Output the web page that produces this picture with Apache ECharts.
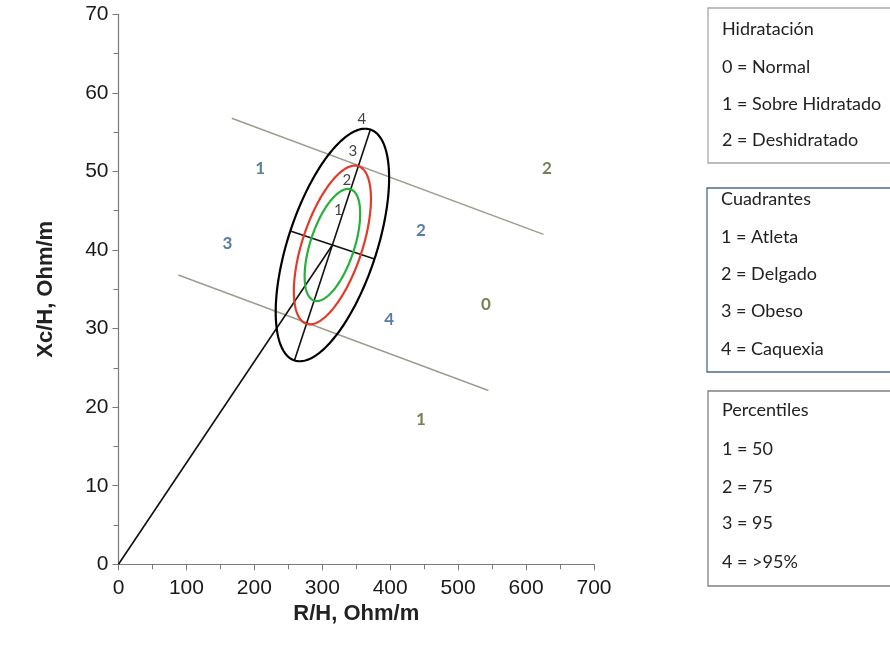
<!DOCTYPE html>
<html><head><meta charset="utf-8">
<script src="https://cdn.jsdelivr.net/npm/echarts@6/dist/echarts.min.js"></script>
<style>html,body{margin:0;padding:0;background:#fff}#c{width:890px;height:648px}</style>
</head><body><div id="c"></div>
<script>
// ---------- data ----------
const xAxisName = 'R/H, Ohm/m';
const yAxisName = 'Xc/H, Ohm/m';
const xRange = [0, 700], xStep = 100;
const yRange = [0, 70], yStep = 10;

// tolerance ellipses: common centre, and each ellipse's major / minor semi-axis end point
const ellipseNames = ['50%', '75%', '95%'];
const ellipseCenter = [314.9, 40.64];
const ellipseMajorEnds = [[341.8, 47.72], [353.2, 50.67], [370.8, 55.33]];
const ellipseMinorEnds = [[345.7, 39.76], [356.8, 39.44], [376.9, 38.87]];

// straight reference lines
const vectorLine = [[0, 0], [314.9, 40.64]];
const majorAxisLine = [[259.0, 25.95], [370.8, 55.33]];
const minorAxisLine = [[252.9, 42.41], [376.9, 38.87]];
const upperHydrationLine = [[166.7, 56.77], [625.6, 42.0]];
const lowerHydrationLine = [[88.1, 36.82], [544.6, 22.12]];

// in-plot labels: [text, x, y]
const percentileLabels = [['1', 323.7, 45.1], ['2', 336.1, 48.9], ['3', 344.9, 52.6], ['4', 358.2, 56.6]];
const quadrantLabels = [['1', 208.4, 50.4], ['2', 445.1, 42.5], ['3', 160.2, 40.8], ['4', 398.4, 31.1]];
const hydrationLabels = [['0', 540.8, 33.0], ['1', 445.1, 18.4], ['2', 630.6, 50.4]];

// legend boxes
const legendHydration = ['Hidratación', '0 = Normal', '1 = Sobre Hidratado', '2 = Deshidratado'];
const legendQuadrants = ['Cuadrantes', '1 = Atleta', '2 = Delgado', '3 = Obeso', '4 = Caquexia'];
const legendPercentiles = ['Percentiles', '1 = 50', '2 = 75', '3 = 95', '4 = >95%'];

// ---------- chart ----------
const ellipseColors = ['#27b03a', '#e23b2a', '#000000'];
const ellipseData = ellipseNames.map((n, i) => ({
  name: n,
  value: [ellipseCenter[0], ellipseCenter[1], ellipseMajorEnds[i][0], ellipseMajorEnds[i][1], ellipseMinorEnds[i][0], ellipseMinorEnds[i][1]]
}));

function renderEllipse(params, api) {
  const c = api.coord([api.value(0), api.value(1)]);
  const m = api.coord([api.value(2), api.value(3)]);
  const n = api.coord([api.value(4), api.value(5)]);
  const ax = m[0] - c[0], ay = m[1] - c[1], bx = n[0] - c[0], by = n[1] - c[1];
  const pts = [];
  for (let i = 0; i < 240; i++) {
    const t = i / 240 * Math.PI * 2;
    pts.push([c[0] + Math.cos(t) * ax + Math.sin(t) * bx, c[1] + Math.cos(t) * ay + Math.sin(t) * by]);
  }
  return { type: 'polygon', shape: { points: pts }, style: { fill: 'none', stroke: ellipseColors[params.dataIndex], lineWidth: 2.2 } };
}

function lineSeries(name, data, color, width) {
  return { type: 'line', name, data, showSymbol: false, symbol: 'none', silent: true,
    lineStyle: { color, width }, z: 3 };
}
function labelSeries(name, arr, color, size, weight) {
  return { type: 'scatter', name, symbolSize: 0, silent: true, z: 5,
    data: arr.map(a => ({ name: a[0], value: [a[1], a[2]] })),
    label: { show: true, position: 'inside', formatter: p => p.name, color,
      fontFamily: 'Lato', fontSize: size, fontWeight: weight } };
}

const legendFont = { fontFamily: 'Lato', fontSize: 18, fill: '#222' };
function legendBox(lines, x, y, w, h, border, ys) {
  const els = [{ type: 'rect', shape: { x, y, width: w, height: h }, style: { fill: '#fff', stroke: border, lineWidth: 1.3 } }];
  lines.forEach((t, i) => els.push({ type: 'text', x: x + 14, y: ys[i], style: Object.assign({ text: t, verticalAlign: 'middle' }, legendFont) }));
  return els;
}

const chart = echarts.init(document.getElementById('c'), null, { renderer: 'canvas' });
chart.setOption({
  animation: false,
  backgroundColor: '#fff',
  grid: { left: 118.5, right: 296, top: 14.3, bottom: 83.7, containLabel: false },
  xAxis: {
    type: 'value', min: xRange[0], max: xRange[1], interval: xStep,
    name: xAxisName, nameLocation: 'middle', nameGap: 37,
    nameTextStyle: { fontFamily: 'Liberation Sans', fontWeight: 'bold', fontSize: 22, color: '#222' },
    axisLine: { show: true, lineStyle: { color: '#7a7a7a', width: 1.2 } },
    axisTick: { show: true, length: 6, lineStyle: { color: '#7a7a7a' } },
    minorTick: { show: true, splitNumber: 2, length: 5, lineStyle: { color: '#7a7a7a' } },
    axisLabel: { margin: 13, fontFamily: 'Liberation Sans', fontSize: 21, color: '#1a1a1a' },
    splitLine: { show: false }
  },
  yAxis: {
    type: 'value', min: yRange[0], max: yRange[1], interval: yStep,
    name: yAxisName, nameLocation: 'middle', nameGap: 62, nameRotate: 90,
    nameTextStyle: { fontFamily: 'Liberation Sans', fontWeight: 'bold', fontSize: 22, color: '#222' },
    axisLine: { show: true, lineStyle: { color: '#7a7a7a', width: 1.2 } },
    axisTick: { show: true, length: 6, lineStyle: { color: '#7a7a7a' } },
    minorTick: { show: true, splitNumber: 2, length: 5, lineStyle: { color: '#7a7a7a' } },
    axisLabel: { margin: 10, fontFamily: 'Liberation Sans', fontSize: 21, color: '#1a1a1a' },
    splitLine: { show: false }
  },
  series: [
    lineSeries('upper', upperHydrationLine, '#9c9c8c', 1.4),
    lineSeries('lower', lowerHydrationLine, '#9c9c8c', 1.4),
    { type: 'custom', name: 'ellipses', renderItem: renderEllipse, data: ellipseData, silent: true, z: 4, clip: false },
    lineSeries('vector', vectorLine, '#111', 1.6),
    lineSeries('major', majorAxisLine, '#111', 1.6),
    lineSeries('minor', minorAxisLine, '#111', 1.6),
    labelSeries('pct', percentileLabels, '#111', 15, 'normal'),
    labelSeries('quad', quadrantLabels, '#2f5b8a', 17, 'bold'),
    labelSeries('hyd', hydrationLabels, '#4f6228', 17, 'bold')
  ],
  graphic: [].concat(
    legendBox(legendHydration, 708, 8, 200, 155, '#a8a8a8', [29, 67, 104, 140]),
    legendBox(legendQuadrants, 707, 188, 200, 184, '#4e6b8c', [199, 237, 274, 311, 349]),
    legendBox(legendPercentiles, 708, 391, 200, 195, '#808080', [410, 449, 487, 523, 562])
  )
});
</script></body></html>
